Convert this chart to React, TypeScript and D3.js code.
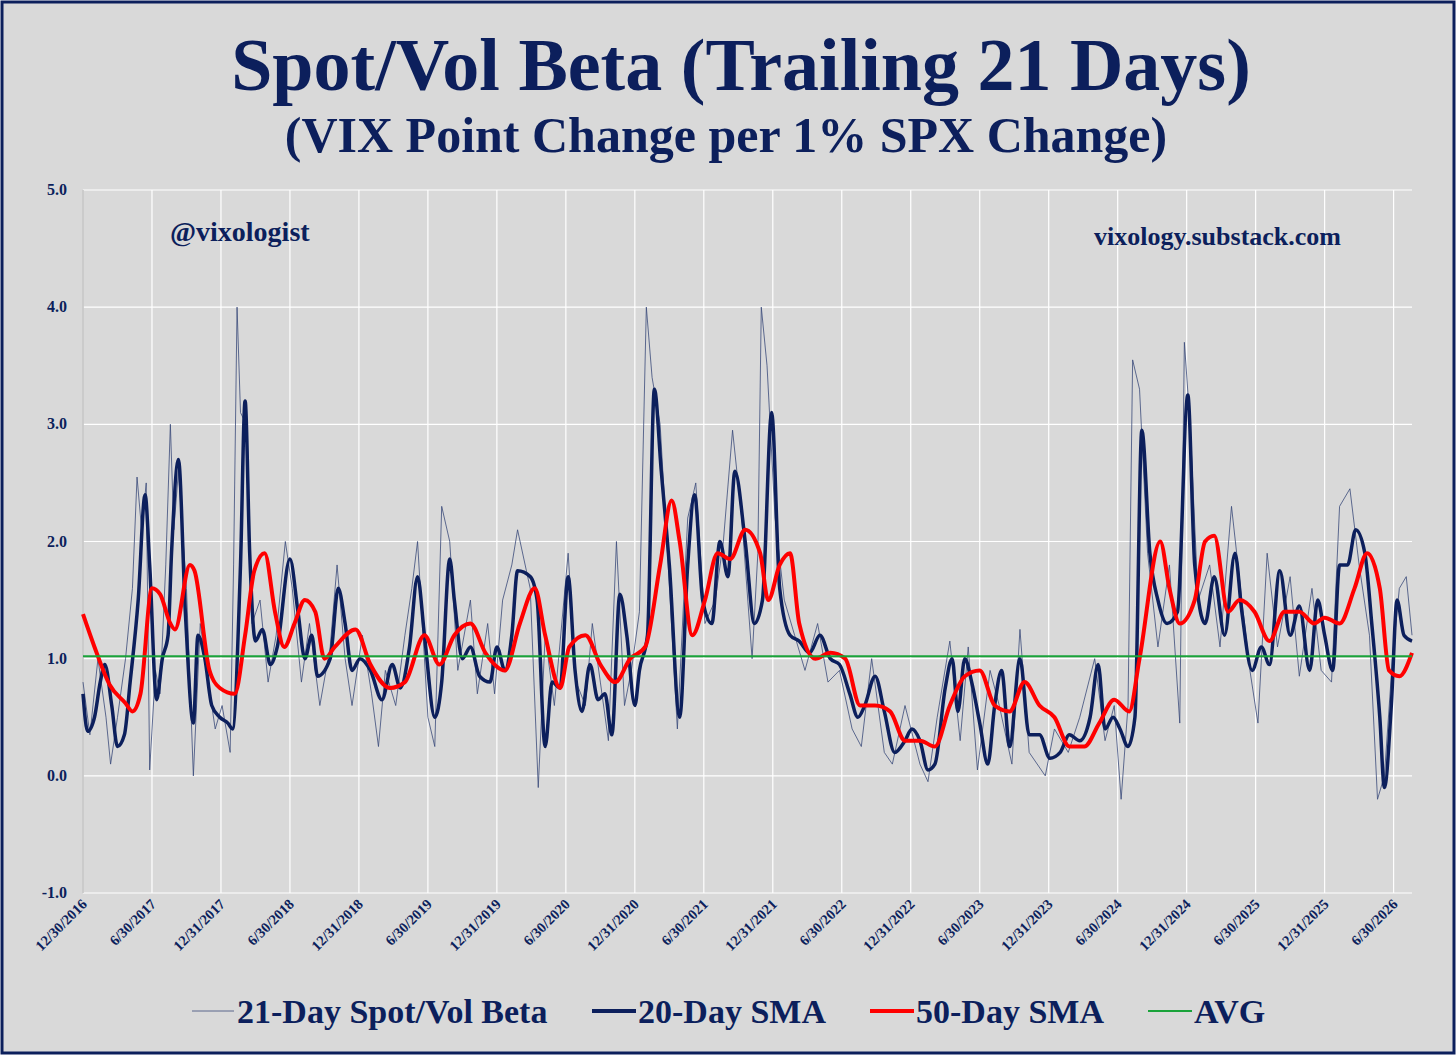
import React from 'react';
import * as d3 from 'd3';

// x values are months since 12/30/2016
const tickLabels = [
  '12/30/2016', '6/30/2017', '12/31/2017', '6/30/2018', '12/31/2018', '6/30/2019',
  '12/31/2019', '6/30/2020', '12/31/2020', '6/30/2021', '12/31/2021', '6/30/2022',
  '12/31/2022', '6/30/2023', '12/31/2023', '6/30/2024', '12/31/2024', '6/30/2025',
  '12/31/2025', '6/30/2026',
];
const yTicks = [-1, 0, 1, 2, 3, 4, 5];
const avgValue = 1.02;

const rawBeta: [number, number][] = [
  [0, 0.8], [0.6, 0.35], [1.3, 1.0], [2.0, 0.5], [2.4, 0.1], [3.0, 0.5], [3.7, 1.0], [4.3, 1.6], [4.7, 2.55],
  [5.1, 2.1], [5.5, 2.5], [5.8, 0.05], [6.3, 0.9], [6.7, 0.7], [7.2, 1.8], [7.6, 3.0], [7.9, 2.1], [8.3, 2.6],
  [9.0, 1.6], [9.6, 0.0], [10.2, 1.3], [10.9, 0.8], [11.5, 0.4], [12.1, 0.6], [12.8, 0.2], [13.1, 1.8],
  [13.4, 4.0], [13.7, 3.1], [14.2, 3.0], [14.7, 1.3], [15.4, 1.5], [16.1, 0.8], [16.8, 1.2], [17.6, 2.0],
  [18.2, 1.6], [19.0, 0.8], [19.7, 1.3], [20.6, 0.6], [21.5, 1.1], [22.1, 1.8], [22.8, 1.0], [23.4, 0.6],
  [24.3, 1.2], [25.1, 0.7], [25.7, 0.25], [26.3, 0.9], [27.2, 0.6], [28.0, 1.2], [28.6, 1.6], [29.1, 2.0],
  [30.0, 0.5], [30.6, 0.25], [31.2, 2.3], [31.9, 2.0], [32.6, 0.9], [33.7, 1.5], [34.3, 0.7], [35.2, 1.3],
  [35.8, 0.7], [36.5, 1.5], [37.3, 1.8], [37.8, 2.1], [38.9, 1.6], [39.6, -0.1], [40.2, 1.2], [41.0, 0.6],
  [42.2, 1.9], [42.9, 0.8], [43.7, 0.6], [44.3, 1.3], [45.0, 0.8], [45.7, 0.3], [46.4, 2.0], [47.1, 0.6],
  [47.7, 0.9], [48.4, 1.4], [49.0, 4.0], [49.5, 3.4], [50.2, 3.0], [50.9, 1.8], [51.7, 0.4], [52.6, 2.2],
  [53.3, 2.5], [54.1, 1.3], [55.0, 1.5], [55.7, 2.0], [56.5, 2.95], [57.3, 2.2], [58.2, 1.0], [58.7, 1.9],
  [59.0, 4.0], [59.5, 3.5], [60.2, 2.2], [61.0, 1.5], [61.9, 1.2], [62.8, 0.9], [63.9, 1.3], [64.8, 0.8],
  [65.8, 0.9], [66.9, 0.4], [67.7, 0.25], [68.6, 1.0], [69.7, 0.2], [70.4, 0.1], [71.5, 0.6], [72.8, 0.1],
  [73.5, -0.05], [74.3, 0.5], [75.4, 1.15], [76.3, 0.3], [77.0, 1.1], [77.8, 0.05], [78.9, 0.9], [79.7, 0.6],
  [80.8, 0.1], [81.5, 1.25], [82.3, 0.2], [83.7, 0.0], [84.5, 0.4], [85.7, 0.2], [86.7, 0.5], [88.0, 1.0],
  [88.9, 0.3], [89.7, 0.6], [90.3, -0.2], [90.9, 0.6], [91.3, 3.55], [91.9, 3.3], [92.6, 1.9], [93.5, 1.1],
  [94.5, 1.8], [95.4, 0.45], [95.8, 3.7], [96.3, 3.0], [97.0, 1.5], [98.0, 1.8], [98.9, 1.1], [99.9, 2.3],
  [100.8, 1.5], [101.5, 0.9], [102.2, 0.45], [103.0, 1.9], [103.9, 1.1], [105.0, 1.7], [105.8, 0.85],
  [106.9, 1.6], [107.7, 0.9], [108.6, 0.8], [109.3, 2.3], [110.2, 2.45], [111.0, 1.8], [111.9, 1.2],
  [112.6, -0.2], [113.2, 0.0], [113.9, 1.0], [114.5, 1.6], [115.1, 1.7], [115.6, 1.2],
];

const sma20: [number, number][] = [
  [0, 0.7], [0.4, 0.38], [1.0, 0.5], [1.5, 0.8], [1.9, 0.95], [2.5, 0.6], [3.0, 0.25], [3.6, 0.35], [4.1, 0.8],
  [4.8, 1.5], [5.4, 2.4], [5.8, 1.8], [6.4, 0.65], [6.9, 1.0], [7.4, 1.2], [7.7, 1.9], [8.3, 2.7], [8.9, 1.4],
  [9.6, 0.45], [10.0, 1.2], [10.6, 1.0], [11.2, 0.6], [11.9, 0.5], [12.6, 0.45], [13.0, 0.4], [13.7, 1.8],
  [14.1, 3.2], [14.5, 1.9], [15.0, 1.15], [15.6, 1.25], [16.3, 0.95], [16.9, 1.1], [18.0, 1.85], [18.7, 1.4],
  [19.3, 1.0], [19.9, 1.2], [20.4, 0.85], [21.5, 1.0], [22.2, 1.6], [22.8, 1.3], [23.4, 0.9], [24.1, 1.0],
  [25.0, 0.9], [26.0, 0.65], [26.9, 0.95], [27.6, 0.75], [28.4, 1.1], [29.1, 1.7], [29.7, 1.2], [30.6, 0.5],
  [31.2, 0.8], [31.9, 1.85], [32.3, 1.5], [33.0, 1.0], [33.7, 1.1], [34.5, 0.85], [35.4, 0.8], [36.0, 1.1],
  [36.7, 0.9], [37.3, 1.2], [37.8, 1.75], [38.9, 1.7], [39.5, 1.5], [40.2, 0.25], [40.8, 0.8], [41.5, 0.75],
  [42.2, 1.7], [42.8, 0.9], [43.4, 0.55], [44.1, 0.95], [44.8, 0.65], [45.4, 0.7], [46.0, 0.35], [46.7, 1.55],
  [47.3, 1.2], [48.0, 0.6], [48.4, 0.9], [49.1, 1.2], [49.7, 3.3], [50.3, 2.6], [51.0, 1.8], [51.9, 0.5],
  [52.6, 1.8], [53.2, 2.4], [53.9, 1.5], [54.7, 1.3], [55.4, 2.0], [56.1, 1.7], [56.7, 2.6], [57.6, 2.0],
  [58.4, 1.3], [59.1, 1.5], [59.9, 3.1], [60.6, 1.6], [61.5, 1.2], [62.3, 1.15], [63.2, 1.05], [64.1, 1.2],
  [65.0, 1.0], [65.8, 0.95], [66.7, 0.7], [67.4, 0.5], [68.0, 0.6], [68.9, 0.85], [69.7, 0.55], [70.6, 0.2],
  [71.5, 0.3], [72.1, 0.4], [72.8, 0.3], [73.5, 0.05], [74.1, 0.1], [75.0, 0.75], [75.6, 1.0], [76.1, 0.55],
  [76.7, 1.0], [77.3, 0.8], [78.0, 0.45], [78.7, 0.1], [79.3, 0.6], [79.9, 0.9], [80.6, 0.25], [81.5, 1.0],
  [82.3, 0.35], [83.2, 0.35], [84.1, 0.15], [85.0, 0.2], [85.8, 0.35], [86.7, 0.3], [87.6, 0.5], [88.3, 0.95],
  [88.9, 0.4], [89.6, 0.5], [90.2, 0.4], [90.9, 0.25], [91.5, 0.5], [92.1, 2.95], [92.8, 1.9], [93.5, 1.5],
  [94.3, 1.3], [95.2, 1.4], [96.1, 3.25], [96.7, 1.8], [97.6, 1.3], [98.4, 1.7], [99.3, 1.2], [100.2, 1.9],
  [100.8, 1.4], [101.7, 0.9], [102.5, 1.1], [103.2, 0.95], [104.1, 1.75], [105.0, 1.2], [105.8, 1.45],
  [106.7, 0.9], [107.4, 1.5], [108.0, 1.2], [108.7, 0.9], [109.3, 1.8], [110.0, 1.8], [110.7, 2.1],
  [111.5, 1.9], [112.1, 1.3], [112.8, 0.5], [113.2, -0.1], [113.8, 0.6], [114.3, 1.5], [114.9, 1.2], [115.6, 1.15],
];

const sma50: [number, number][] = [
  [0, 1.38], [1.0, 1.1], [2.3, 0.78], [3.7, 0.62], [4.3, 0.55], [5.0, 0.7], [6.0, 1.6], [6.7, 1.55], [7.6, 1.3],
  [8.0, 1.25], [9.3, 1.8], [9.7, 1.75], [11.0, 0.9], [11.9, 0.75], [13.2, 0.7], [14.1, 1.2], [14.9, 1.75],
  [15.8, 1.9], [16.7, 1.4], [17.5, 1.1], [18.4, 1.3], [19.3, 1.5], [20.2, 1.4], [21.0, 1.0], [21.9, 1.1],
  [23.7, 1.25], [25.0, 0.95], [26.7, 0.75], [28.0, 0.8], [29.7, 1.2], [31.0, 0.95], [32.3, 1.2], [33.7, 1.3],
  [35.0, 1.05], [36.7, 0.9], [38.0, 1.3], [39.3, 1.6], [40.2, 1.2], [41.5, 0.75], [42.3, 1.1], [43.7, 1.2],
  [45.0, 0.95], [46.3, 0.8], [47.6, 1.0], [48.9, 1.1], [50.2, 1.8], [51.2, 2.35], [51.9, 2.0], [53.0, 1.2],
  [54.1, 1.5], [55.2, 1.9], [56.3, 1.85], [57.6, 2.1], [58.9, 1.9], [59.6, 1.5], [60.6, 1.8], [61.5, 1.9],
  [62.3, 1.3], [63.7, 1.0], [65.0, 1.05], [66.3, 1.0], [67.6, 0.6], [68.9, 0.6], [70.2, 0.55], [71.5, 0.3],
  [72.8, 0.3], [74.1, 0.25], [75.4, 0.6], [76.7, 0.85], [78.0, 0.9], [79.3, 0.6], [80.6, 0.55], [81.9, 0.8],
  [83.2, 0.6], [84.5, 0.5], [85.8, 0.25], [87.1, 0.25], [88.4, 0.45], [89.7, 0.65], [91.0, 0.55], [91.9, 1.0],
  [93.7, 2.0], [94.5, 1.6], [95.4, 1.3], [96.7, 1.5], [97.6, 2.0], [98.4, 2.05], [99.6, 1.4], [100.6, 1.5],
  [101.9, 1.4], [103.2, 1.15], [104.5, 1.4], [105.8, 1.4], [107.1, 1.3], [108.0, 1.35], [109.3, 1.3],
  [110.6, 1.6], [111.7, 1.9], [112.8, 1.6], [113.6, 0.9], [114.5, 0.85], [115.6, 1.05],
];

const NAVY = '#0c1f5c';
const FONT = '"Liberation Serif", "Times New Roman", serif';

export default function App() {
  const W = 1456, H = 1055;
  const left = 83, right = 1412, top = 190, bottom = 893;
  const x = d3.scaleLinear().domain([0, 115.6]).range([left, right]);
  const y = d3.scaleLinear().domain([-1, 5]).range([bottom, top]);
  const rawLine = d3.line<[number, number]>().x(d => x(d[0])).y(d => y(d[1]));
  const smoothLine = d3.line<[number, number]>().x(d => x(d[0])).y(d => y(d[1])).curve(d3.curveMonotoneX);
  const tickMonths = tickLabels.map((_, i) => i * 6);

  return (
    <svg width={W} height={H} style={{ position: 'absolute', left: 0, top: 0 }} fontFamily={FONT}>
      <rect x={2} y={2} width={W - 4} height={H - 4} fill="#d9d9d9" stroke={NAVY} strokeWidth={3} />
      <text x={741} y={90} textAnchor="middle" fontSize={74} fontWeight="bold" fill={NAVY}>
        Spot/Vol Beta (Trailing 21 Days)
      </text>
      <text x={726} y={152} textAnchor="middle" fontSize={50} fontWeight="bold" fill={NAVY}>
        (VIX Point Change per 1% SPX Change)
      </text>

      {/* grid */}
      {yTicks.map(t => (
        <g key={t}>
          <line x1={left} x2={right} y1={y(t)} y2={y(t)} stroke="#fff" strokeWidth={1.2} />
          <text x={left - 16} y={y(t) + 5} textAnchor="end" fontSize={16} fontWeight="bold" fill={NAVY}>
            {t.toFixed(1)}
          </text>
        </g>
      ))}
      {tickMonths.map((m, i) => (
        <g key={m}>
          <line x1={x(m)} x2={x(m)} y1={top} y2={bottom} stroke="#fff" strokeWidth={1.2} />
          <text
            transform={`translate(${x(m) + 5},${bottom + 12}) rotate(-45)`}
            textAnchor="end"
            fontSize={14.5}
            fontWeight="bold"
            fill={NAVY}
          >
            {tickLabels[i]}
          </text>
        </g>
      ))}
      <line x1={left} x2={left} y1={top} y2={bottom} stroke="#bfbfbf" strokeWidth={1.5} />

      <text x={170} y={241} fontSize={28} fontWeight="bold" fill={NAVY}>@vixologist</text>
      <text x={1341} y={245} textAnchor="end" fontSize={26} fontWeight="bold" fill={NAVY}>vixology.substack.com</text>

      <path d={rawLine(rawBeta) ?? ''} fill="none" stroke="#3a4a7a" strokeWidth={0.8} />
      <path d={smoothLine(sma20) ?? ''} fill="none" stroke={NAVY} strokeWidth={3.5} />
      <path d={smoothLine(sma50) ?? ''} fill="none" stroke="#ff0000" strokeWidth={4} />
      <line x1={left} x2={right} y1={y(avgValue)} y2={y(avgValue)} stroke="#1aa33a" strokeWidth={2} />

      {/* legend */}
      <g fontSize={34} fontWeight="bold" fill={NAVY}>
        <line x1={192} x2={234} y1={1011} y2={1011} stroke="#3a4a7a" strokeWidth={0.8} />
        <text x={237} y={1023}>21-Day Spot/Vol Beta</text>
        <line x1={592} x2={636} y1={1011} y2={1011} stroke={NAVY} strokeWidth={4} />
        <text x={638} y={1023}>20-Day SMA</text>
        <line x1={870} x2={914} y1={1011} y2={1011} stroke="#ff0000" strokeWidth={4} />
        <text x={916} y={1023}>50-Day SMA</text>
        <line x1={1148} x2={1192} y1={1011} y2={1011} stroke="#1aa33a" strokeWidth={2} />
        <text x={1194} y={1023}>AVG</text>
      </g>
    </svg>
  );
}
